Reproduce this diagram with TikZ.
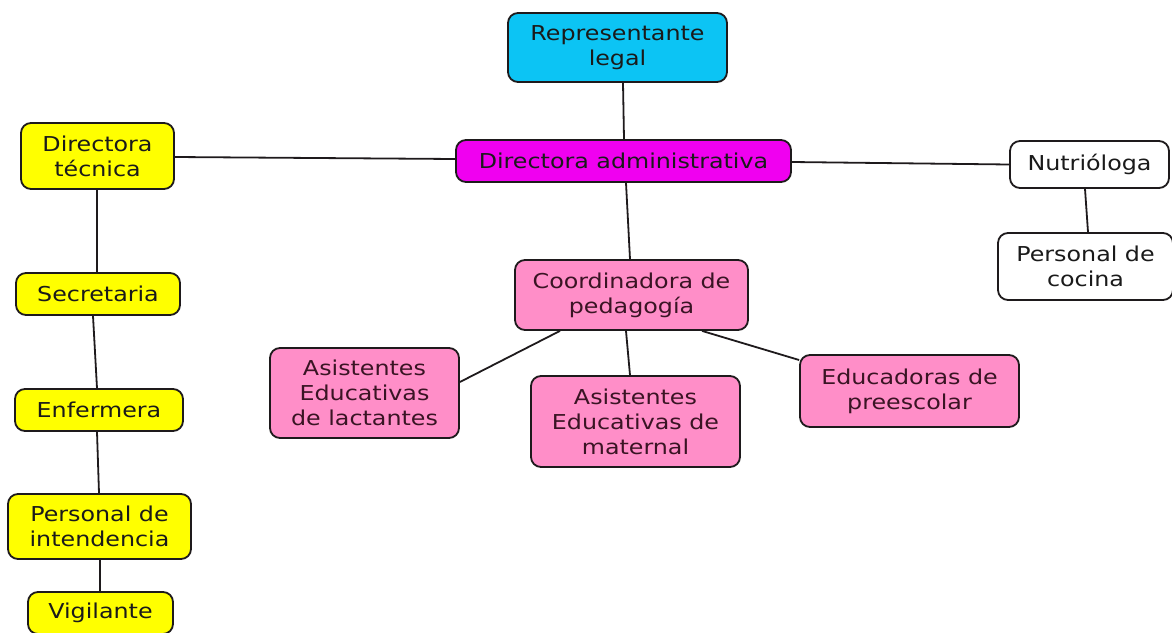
\documentclass[tikz,border=0pt]{standalone}
\usepackage{fontspec}
\setmainfont{DejaVu Sans}[FakeStretch=1.16]
\usetikzlibrary{calc}
\definecolor{ylw}{HTML}{FFFF00}
\definecolor{cyn}{HTML}{0CC4F4}
\definecolor{mag}{HTML}{F000F0}
\definecolor{pnk}{HTML}{FF8EC8}
\definecolor{edge}{HTML}{1E1A1C}
\definecolor{ink}{HTML}{1A1A1A}
\definecolor{pinkink}{HTML}{3A1424}
\tikzset{
  box/.style={draw=edge, line width=1.8pt, rounded corners=10pt, inner sep=0pt,
    align=center, text=ink, font=\fontsize{20.5}{25}\selectfont},
  pbox/.style={box, fill=pnk, text=pinkink},
  conn/.style={draw=edge, line width=1.8pt}
}
\begin{document}
\begin{tikzpicture}[x=1pt,y=-1pt]
\useasboundingbox (0,0) rectangle (1172,632);
% left column
\node[box, fill=ylw, minimum width=153pt, minimum height=66pt] (dt) at (97.5,156) {Directora\\técnica};
\node[box, fill=ylw, minimum width=164pt, minimum height=42pt] (sec) at (98,294) {Secretaria};
\node[box, fill=ylw, minimum width=168pt, minimum height=42pt] (enf) at (99,410) {Enfermera};
\node[box, fill=ylw, minimum width=183pt, minimum height=65pt] (int) at (99.5,526.5) {Personal de\\intendencia};
\node[box, fill=ylw, minimum width=145pt, minimum height=42pt] (vig) at (100.5,613) {Vigilante};
% centre
\node[box, fill=cyn, minimum width=219pt, minimum height=69pt] (rep) at (617.5,47.5) {Representante\\legal};
\node[box, fill=mag, minimum width=335pt, minimum height=42pt] (da) at (623.5,161) {Directora administrativa};
\node[pbox, minimum width=233pt, minimum height=70pt] (coord) at (631.5,295) {Coordinadora de\\pedagogía};
\node[pbox, minimum width=189pt, minimum height=90pt] (lac) at (364.5,393) {Asistentes\\Educativas\\de lactantes};
\node[pbox, minimum width=209pt, minimum height=91pt] (mat) at (635.5,421.5) {Asistentes\\Educativas de\\maternal};
\node[pbox, minimum width=219pt, minimum height=72pt] (edu) at (909.5,391) {Educadoras de\\preescolar};
% right
\node[box, fill=white, minimum width=159pt, minimum height=47pt] (nut) at (1089.5,164.5) {Nutrióloga};
\node[box, fill=white, minimum width=175pt, minimum height=67pt] (coc) at (1085.5,266.5) {Personal de\\cocina};
% connectors
\draw[conn] ([xshift=5.5pt]rep.south) -- ([xshift=0.5pt]da.north);
\draw[conn] ([yshift=-1pt]dt.east) -- ([yshift=2pt]da.west);
\draw[conn] ([yshift=-1pt]da.east) -- (nut.west);
\draw[conn] ([xshift=-4.5pt]nut.south) -- ([xshift=2.5pt]coc.north);
\draw[conn] ([xshift=2.5pt]da.south) -- ([xshift=-1.5pt]coord.north);
\draw[conn] ([xshift=-71.5pt]coord.south) -- ([yshift=11pt]lac.east);
\draw[conn] ([xshift=-5.5pt]coord.south) -- ([xshift=-5.5pt]mat.north);
\draw[conn] ([xshift=70.5pt]coord.south) -- ([yshift=31pt]edu.west);
\draw[conn] ([xshift=-0.5pt]dt.south) -- ([xshift=-1pt]sec.north);
\draw[conn] ([xshift=-5pt]sec.south) -- ([xshift=-2pt]enf.north);
\draw[conn] ([xshift=-2pt]enf.south) -- ([xshift=-0.5pt]int.north);
\draw[conn] ([xshift=0.5pt]int.south) -- ([xshift=-0.5pt]vig.north);
\end{tikzpicture}
\end{document}
